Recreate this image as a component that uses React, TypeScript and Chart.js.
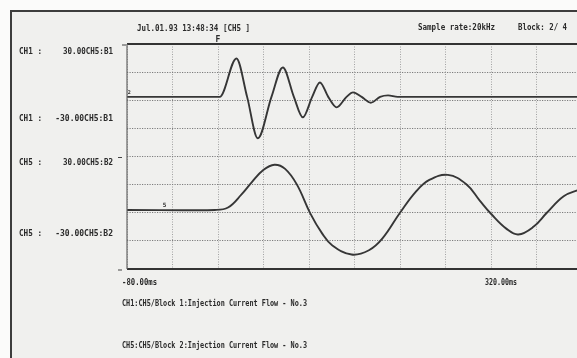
import React, { useEffect, useRef } from "react";
import { Chart, registerables } from "chart.js";

Chart.register(...registerables);

// ---- axis settings ----
const timeMin = -80;
const timeMax = 320;
const timeStep = 40;
const channelRange = 30;
const triggerTime = 0;

// ---- CH1 (upper trace), ms / value ----
const ch1Time = [-80, 1.5, 16.2, 25.6, 35, 47, 57, 66.7, 74.6, 82.8, 89.6, 96.9, 104.3, 113, 118.7, 126.3, 134.3, 142.5, 149.5, 158, 320];
const ch1Values = [1.8, 1.8, 22.3, 1.8, -20.3, 1.8, 17.5, 1.8, -9.1, 1.8, 9.5, 1.8, -3.8, 1.8, 4.2, 1.8, -1.3, 1.8, 2.6, 1.8, 1.8];

// ---- CH5 (lower trace), ms / value ----
const ch5Time = [-80, -2.9, 8.8, 20.7, 29.6, 39.8, 49.6, 59, 69.4, 81.1, 91.5, 100.3, 117.4, 132.7, 144.6, 160, 174, 185.8, 202.1, 218.3, 230.1, 240.4, 253.7, 264, 277.3, 289.1, 303.9, 317.2, 320];
const ch5Values = [1.5, 1.5, 2.8, 9.8, 16.2, 22.8, 25.6, 23.4, 15.0, -0.3, -11, -17.3, -22.3, -20, -13.7, 0, 11.3, 17.5, 20.2, 15.2, 6.5, -0.8, -8.6, -11.6, -7.5, 0, 8.8, 12.2, 12.6];

// ---- texts ----
const headerStamp = "Jul.01.93 13:48:34 [CH5 ]";
const headerRate = "Sample rate:20kHz";
const headerBlock = "Block: 2/ 4";
const channelNames = ["CH1", "CH5"];
const channelSources = ["CH5:B1", "CH5:B2"];
const channelMarkers = ["2", "5"];
const markerTimes = [-79, -47];
const footerLines = [
  "CH1:CH5/Block 1:Injection Current Flow - No.3",
  "CH5:CH5/Block 2:Injection Current Flow - No.3",
];
const triggerLabel = "F";

const INK = "#2a2a2a";
const FONT = '"DejaVu Sans Mono", "Liberation Mono", monospace';

const paperPlugin = {
  id: "paper",
  beforeDraw(chart: any) {
    const { ctx, width, height } = chart;
    ctx.save();
    ctx.fillStyle = "#fbfbfa";
    ctx.fillRect(0, 0, width, height);
    ctx.fillStyle = "#f0f0ee";
    ctx.fillRect(11, 11, width - 11, height - 11);
    ctx.strokeStyle = "#3d3d3d";
    ctx.lineWidth = 2;
    ctx.beginPath();
    ctx.moveTo(11, height);
    ctx.lineTo(11, 11);
    ctx.lineTo(width, 11);
    ctx.stroke();
    ctx.restore();
  },
  afterDraw(chart: any) {
    const { ctx, chartArea } = chart;
    const xs = chart.scales.x;
    const y1 = chart.scales.y;
    const y2 = chart.scales.y2;
    const { left, top, right, bottom } = chartArea;
    ctx.save();
    // frame
    ctx.strokeStyle = "#333";
    ctx.lineWidth = 2;
    ctx.beginPath();
    ctx.moveTo(left, top);
    ctx.lineTo(right, top);
    ctx.moveTo(left, bottom);
    ctx.lineTo(right, bottom);
    ctx.stroke();
    ctx.strokeStyle = "#666";
    ctx.lineWidth = 1.2;
    ctx.beginPath();
    ctx.moveTo(left, top);
    ctx.lineTo(left, bottom);
    ctx.stroke();

    // range ticks on the left
    ctx.strokeStyle = "#444";
    ctx.lineWidth = 1;
    const tickYs = [y1.getPixelForValue(channelRange), y2.getPixelForValue(channelRange), y2.getPixelForValue(-channelRange)];
    ctx.beginPath();
    tickYs.forEach((ty: number, i: number) => {
      const x0 = i === 0 ? left - 5 : left - 9;
      ctx.moveTo(x0, ty + 1);
      ctx.lineTo(x0 + 4, ty + 1);
    });
    ctx.stroke();

    ctx.fillStyle = INK;
    ctx.textBaseline = "middle";
    const txt = (s: string, x: number, y: number, w: number, align: CanvasTextAlign = "left", size = 8) => {
      ctx.font = `bold ${size}px ${FONT}`;
      ctx.textAlign = align;
      ctx.fillText(s, x, y, w);
    };

    // header
    txt(headerStamp, 137, 29, 113);
    txt(headerRate, 418, 28, 77);
    txt(headerBlock, 518, 28, 49);

    // channel labels
    const labelYs = [
      [52, 119],
      [163, 234],
    ];
    channelNames.forEach((name, i) => {
      const hi = `${channelRange.toFixed(2)}${channelSources[i]}`;
      const lo = `${(-channelRange).toFixed(2)}${channelSources[i]}`;
      txt(`${name} :`, 19, labelYs[i][0], 23);
      txt(hi, 113, labelYs[i][0], 50, "right");
      txt(`${name} :`, 19, labelYs[i][1], 23);
      txt(lo, 113, labelYs[i][1], 59, "right");
    });

    // time labels
    txt(`${timeMin.toFixed(2)}ms`, 122, 283, 35);
    txt(`${timeMax.toFixed(2)}ms`, 485, 283, 32);

    // footer
    txt(footerLines[0], 122, 304, 185);
    txt(footerLines[1], 122, 346, 185);

    // trigger
    txt(triggerLabel, xs.getPixelForValue(triggerTime), 40, 6, "center", 8);

    // channel markers
    txt(channelMarkers[0], xs.getPixelForValue(markerTimes[0]) + 1, y1.getPixelForValue(ch1Values[0]) - 4, 4, "center", 5);
    txt(channelMarkers[1], xs.getPixelForValue(markerTimes[1]), y2.getPixelForValue(ch5Values[0]) - 5, 4, "center", 6);
    ctx.restore();
  },
};

export default function App() {
  const ref = useRef<HTMLCanvasElement | null>(null);
  useEffect(() => {
    if (!ref.current) return;
    const lineStyle = {
      borderColor: "#363636",
      borderWidth: 1.9,
      pointRadius: 0,
      fill: false,
    };
    const chart = new Chart(ref.current, {
      type: "line",
      data: {
        datasets: [
          {
            ...lineStyle,
            label: "CH1",
            data: ch1Time.map((t, i) => ({ x: t, y: ch1Values[i] })),
            yAxisID: "y",
            cubicInterpolationMode: "monotone",
          },
          {
            ...lineStyle,
            label: "CH5",
            data: ch5Time.map((t, i) => ({ x: t, y: ch5Values[i] })),
            yAxisID: "y2",
            tension: 0.4,
          },
        ],
      },
      options: {
        animation: false,
        responsive: false,
        devicePixelRatio: 1,
        layout: { padding: { left: 127, top: 44, right: 18, bottom: 89 } },
        plugins: { legend: { display: false }, tooltip: { enabled: false } },
        scales: {
          x: {
            type: "linear",
            min: timeMin,
            max: timeMax,
            ticks: { stepSize: timeStep, display: false },
            grid: { color: "#a2a2a2", lineWidth: 1, drawTicks: false },
            border: { display: false, dash: [1, 1.5] },
          },
          y: {
            min: -3 * channelRange,
            max: channelRange,
            ticks: { stepSize: channelRange / 2, display: false },
            grid: { color: "#7c7c7c", lineWidth: 1, drawTicks: false },
            border: { display: false, dash: [1.2, 1.3] },
          },
          y2: {
            display: false,
            min: -channelRange,
            max: 3 * channelRange,
          },
        },
      },
      plugins: [paperPlugin],
    } as any);
    return () => chart.destroy();
  }, []);
  return (
    <div style={{ position: "absolute", left: 0, top: 0, width: 577, height: 358, overflow: "hidden" }}>
      <canvas ref={ref} width={600} height={358} style={{ display: "block", width: 600, height: 358 }} />
    </div>
  );
}
